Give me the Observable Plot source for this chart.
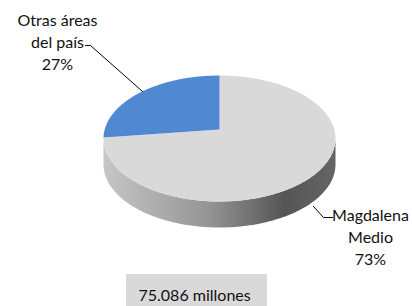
<!DOCTYPE html>
<html>
<head>
<meta charset="utf-8">
<script src="https://cdn.jsdelivr.net/npm/d3@7"></script>
<script src="https://cdn.jsdelivr.net/npm/@observablehq/plot@0.6"></script>
<style>
  html, body { margin: 0; padding: 0; background: #fff; }
  #chart { width: 412px; height: 306px; overflow: hidden; }
</style>
</head>
<body>
<div id="chart"></div>
<script>
// ---- data ----
const categories = ["Magdalena Medio", "Otras áreas del país"];
const labelLines = ["Magdalena\nMedio", "Otras áreas\ndel país"];
const shares = [73, 27];
const sliceColors = ["#d9d9d9", "#5089d2"];
const totalLabel = "75.086 millones";

// ---- layout (pixels) ----
const W = 412, H = 306;
const cx = 219, cy = 138, rx = 116, ry = 63, vdy = -9, depth = 26;
const labelPos = [{x: 370, y: 235}, {x: 57, y: 40}];
const leaderPts = [
  [{x: 313, y: 206}, {x: 323, y: 217}, {x: 332, y: 217}],
  [{x: 85, y: 45}, {x: 90, y: 45}, {x: 142, y: 91}]
];
const box = {x1: 126, x2: 267, y1: 274, y2: 312, tx: 138, ty: 295};

const TAU = Math.PI * 2;
function ell(phi, dy = 0) {
  return {x: cx + rx * Math.sin(phi), y: cy - ry * Math.cos(phi) + dy};
}
// intersection of a perspective ray from the shifted vertex with the rim
function edgeParam(a) {
  const u = Math.sin(a), w = -Math.cos(a), k = vdy / ry;
  const t = -k * w + Math.sqrt(k * k * w * w - k * k + 1);
  const px = u * t, py = k + w * t; // normalized coords
  return Math.atan2(px, -py);
}

const total = d3.sum(shares);
let acc = 0;
const slices = shares.map((v, i) => {
  const a0 = acc / total * TAU;
  acc += v;
  const a1 = acc / total * TAU;
  let p0 = edgeParam(a0), p1 = edgeParam(a1);
  while (p1 <= p0) p1 += TAU;
  const n = 120;
  const pts = [{x: cx, y: cy + vdy}];
  for (let j = 0; j <= n; j++) pts.push(ell(p0 + (p1 - p0) * j / n));
  return {i, pts};
});

// visible side wall (front half of the cylinder)
const side = [];
for (let j = 0; j <= 120; j++) side.push(ell(Math.PI / 2 + Math.PI * j / 120));
for (let j = 120; j >= 0; j--) side.push(ell(Math.PI / 2 + Math.PI * j / 120, depth));

const defs = () => {
  const g = d3.create("svg:defs");
  const lg = g.append("linearGradient").attr("id", "sideGrad").attr("x1", "0").attr("x2", "1").attr("y1", "0").attr("y2", "0");
  [["0%", "#c6c6c6"], ["45%", "#959595"], ["78%", "#555555"], ["100%", "#656565"]]
    .forEach(([o, c]) => lg.append("stop").attr("offset", o).attr("stop-color", c));
  return g.node();
};

const marks = [
  defs,
  Plot.line(side, {x: "x", y: "y", fill: "url(#sideGrad)", stroke: "none", curve: "linear-closed"}),
  ...slices.map(s => Plot.line(s.pts, {x: "x", y: "y", fill: sliceColors[s.i], stroke: "none", curve: "linear-closed"})),
  ...leaderPts.map(p => Plot.line(p, {x: "x", y: "y", stroke: "#000", strokeWidth: 1})),
  Plot.text(categories.map((c, i) => ({text: labelLines[i] + "\n" + shares[i] + "%", ...labelPos[i]})),
    {x: "x", y: "y", text: "text", textAnchor: "middle", lineAnchor: "middle", lineHeight: 1.375, fill: "#111", fontSize: 16}),
  Plot.rect([box], {x1: "x1", x2: "x2", y1: "y1", y2: "y2", fill: "#d9d9d9"}),
  Plot.text([box], {x: "tx", y: "ty", text: () => totalLabel, textAnchor: "start", lineAnchor: "middle", fill: "#111", fontSize: 16})
];

const chart = Plot.plot({
  width: W, height: H,
  margin: 0,
  x: {domain: [0, W], range: [0, W], axis: null},
  y: {domain: [0, H], range: [0, H], axis: null},
  style: {background: "#fff", fontFamily: "Lato, 'Open Sans', sans-serif", fontSize: "16px"},
  marks
});
document.getElementById("chart").appendChild(chart);
</script>
</body>
</html>
